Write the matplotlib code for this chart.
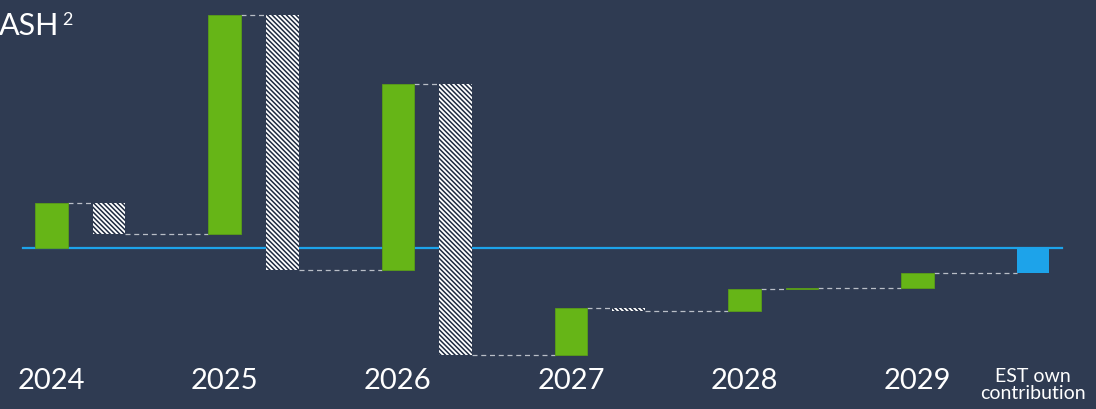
import numpy as np
import matplotlib
matplotlib.use("Agg")
from matplotlib import pyplot as plt

plt.rcParams['font.family'] = ['Lato', 'DejaVu Sans']
plt.rcParams['hatch.linewidth'] = 1.1

# waterfall steps, in chart units (inflow > 0, outflow < 0)
years = ["2024", "2025", "2026", "2027", "2028", "2029", "EST own\ncontribution"]
steps = [19.3, -13.3, 94.0, -109.4, 79.8, -116.3, 20.1, -1.3, 9.4, 0.4, 6.6, 10.7]
kinds = ["in", "out", "in", "out", "in", "out", "in", "out", "in", "in", "in", "own"]
# each year holds two bars, the own contribution sits after 2029
slots = [0, 1, 0, 1, 0, 1, 0, 1, 0, 1, 0, 2]
groups = [0, 0, 1, 1, 2, 2, 3, 3, 4, 4, 5, 5]

bg = "#2f3b52"
green = "#66b517"
blue = "#1da3ea"
navy = "#1e2a40"

fig = plt.figure(figsize=(10.96, 4.09), dpi=100, facecolor=bg)
ax = fig.add_axes([0, 49 / 409, 1, 360 / 409])
ax.set_facecolor(bg)

width = 0.188
xs = np.array(groups) + np.array(slots) / 3.0
ends = np.cumsum(steps)
starts = ends - np.array(steps)

for x, s, e, k in zip(xs, starts, ends, kinds):
    lo, h = min(s, e), abs(e - s)
    if k == "in":
        ax.bar(x, h, width, bottom=lo, color=green, edgecolor="#5a9e18", linewidth=0.6, zorder=3)
    elif k == "out":
        ax.bar(x, h, width, bottom=lo, facecolor="white", edgecolor=navy,
               hatch="\\" * 7, linewidth=0, zorder=3)
    else:
        ax.bar(x, h, width, bottom=lo, color=blue, linewidth=0, zorder=3)

# dashed connectors between consecutive bars
for i in range(len(steps) - 1):
    ax.plot([xs[i] + width / 2, xs[i + 1] - width / 2], [ends[i], ends[i]],
            color="#b9bec7", linewidth=0.9, linestyle=(0, (4, 3)), zorder=2)

# zero line runs behind the bars
ax.plot([-0.165, 5.834], [0, 0], color=blue, linewidth=1.6, zorder=2.5)

ax.set_xlim(-0.297, 6.031)
ax.set_ylim(-48.1, 106.4)

ticks = list(range(6)) + [5 + 2 / 3]
ax.set_xticks(ticks)
ax.set_xticklabels(years, color="white", fontsize=21)
ax.get_xticklabels()[-1].set_fontsize(14)
ax.get_xticklabels()[-1].set_linespacing(1.0)
ax.tick_params(axis="x", length=0, pad=6)
ax.set_yticks([])
for sp in ax.spines.values():
    sp.set_visible(False)

fig.text(-0.001, 1 - 35 / 409, "ASH", color="white", fontsize=22, va="baseline", ha="left")
fig.text(62 / 1096, 1 - 25 / 409, "2", color="white", fontsize=13, va="baseline", ha="left")

fig.savefig("out.png", dpi=100, facecolor=bg)
